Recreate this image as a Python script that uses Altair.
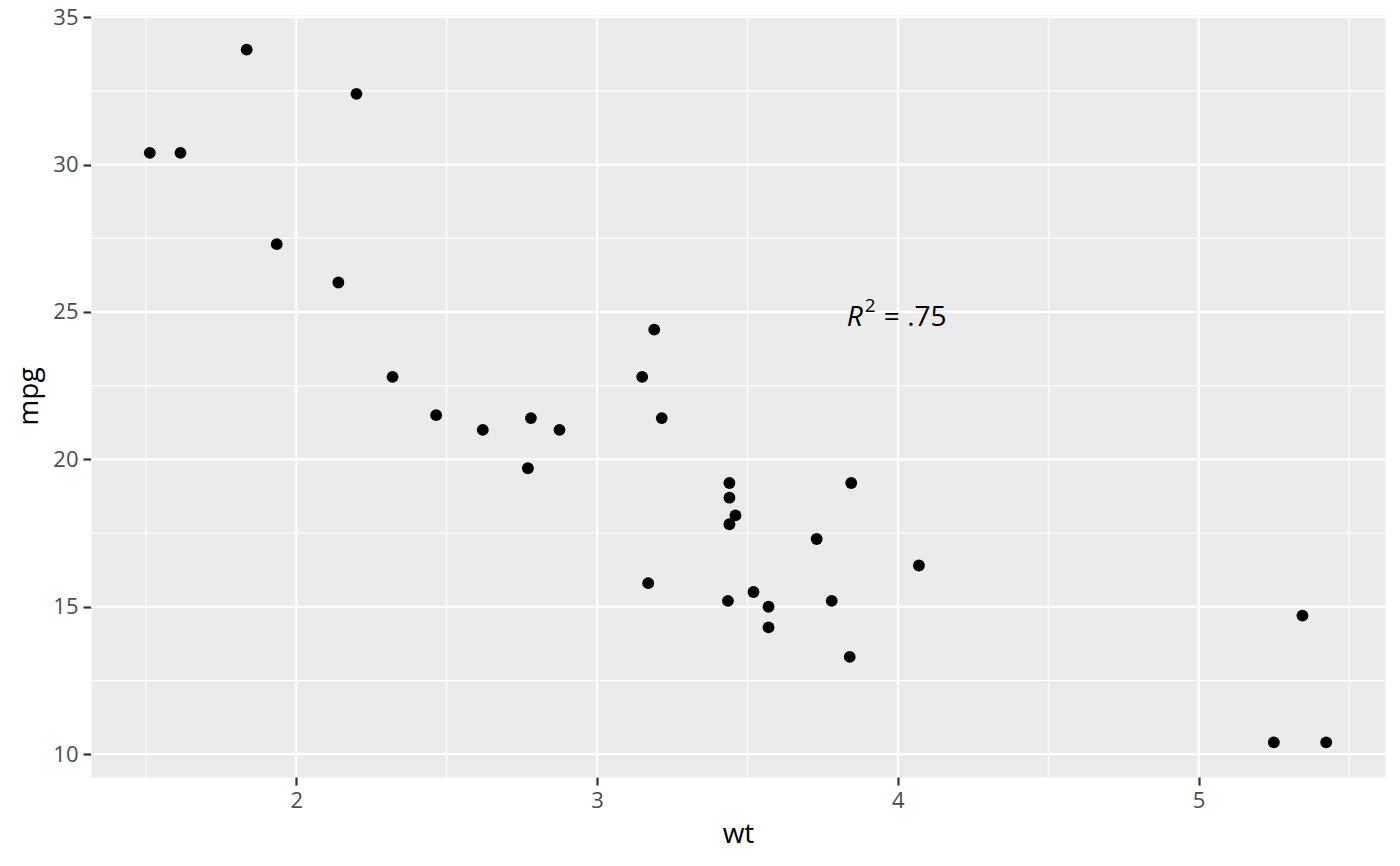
import altair as alt
import pandas as pd

# mtcars: weight (1000 lbs) and miles per gallon
wt = [2.620, 2.875, 2.320, 3.215, 3.440, 3.460, 3.570, 3.190, 3.150, 3.440, 3.440,
      4.070, 3.730, 3.780, 5.250, 5.424, 5.345, 2.200, 1.615, 1.835, 2.465, 3.520,
      3.435, 3.840, 3.845, 1.935, 2.140, 1.513, 3.170, 2.770, 3.570, 2.780]
mpg = [21.0, 21.0, 22.8, 21.4, 18.7, 18.1, 14.3, 24.4, 22.8, 19.2, 17.8,
       16.4, 17.3, 15.2, 10.4, 10.4, 14.7, 32.4, 30.4, 33.9, 21.5, 15.5,
       15.2, 13.3, 19.2, 27.3, 26.0, 30.4, 15.8, 19.7, 15.0, 21.4]

x_major = [2, 3, 4, 5]
x_minor = [1.5, 2.5, 3.5, 4.5, 5.5]
y_major = [10, 15, 20, 25, 30, 35]
y_minor = [12.5, 17.5, 22.5, 27.5, 32.5]

annot_x = [4]
annot_y = [25]

X_DOM = [1.3175, 5.6195]
Y_DOM = [9.225, 35.075]
FONT = "Open Sans"

xs = alt.Scale(domain=X_DOM, nice=False, zero=False)
ys = alt.Scale(domain=Y_DOM, nice=False, zero=False)
x_axis = alt.Axis(values=x_major, format="d", titleY=65, titleBaseline="alphabetic")
y_axis = alt.Axis(values=y_major, format="d", titleX=-54, titleBaseline="alphabetic")


def X(field):
    return alt.X(field, scale=xs, axis=x_axis, title="wt")


def Y(field):
    return alt.Y(field, scale=ys, axis=y_axis, title="mpg")


pts = pd.DataFrame({"wt": wt, "mpg": mpg})


def vrules(vals, w):
    return alt.Chart(pd.DataFrame({"v": vals})).mark_rule(color="white", strokeWidth=w).encode(
        x=X("v:Q")
    )


def hrules(vals, w):
    return alt.Chart(pd.DataFrame({"v": vals})).mark_rule(color="white", strokeWidth=w).encode(
        y=Y("v:Q")
    )


points = alt.Chart(pts).mark_circle(size=140, color="black", opacity=1).encode(
    x=X("wt:Q"), y=Y("mpg:Q")
)

adf = pd.DataFrame({"x": annot_x, "y": annot_y})
base_a = alt.Chart(adf).encode(x=X("x:Q"), y=Y("y:Q"))
t_r = base_a.mark_text(text="R", font=FONT, fontSize=28, fontStyle="italic", align="left",
                       baseline="alphabetic", dx=-51, dy=14, color="black")
t_2 = base_a.mark_text(text="2", font=FONT, fontSize=19, align="left",
                       baseline="alphabetic", dx=-33, dy=0, color="black")
t_eq = base_a.mark_text(text="= .75", font=FONT, fontSize=28, align="left",
                        baseline="alphabetic", dx=-14, dy=14, color="black")

chart = alt.layer(
    vrules(x_minor, 1.1), hrules(y_minor, 1.1),
    vrules(x_major, 2.2), hrules(y_major, 2.2),
    points, t_r, t_2, t_eq,
).properties(
    width=1294, height=762,
    autosize=alt.AutoSizeParams(type="none"),
    padding={"left": 83, "top": 7, "right": 7, "bottom": 80},
).configure_view(
    fill="#EBEBEB", stroke="transparent"
).configure_axis(
    domain=False, grid=False,
    labelFont=FONT, labelFontSize=22, labelColor="#4D4D4D", labelPadding=5,
    tickColor="#333333", tickWidth=2.2, tickSize=8,
    titleFont=FONT, titleFontSize=28, titleFontWeight="normal", titleColor="black",
)

chart.save("out.html", embed_options={"renderer": "svg", "actions": False})
